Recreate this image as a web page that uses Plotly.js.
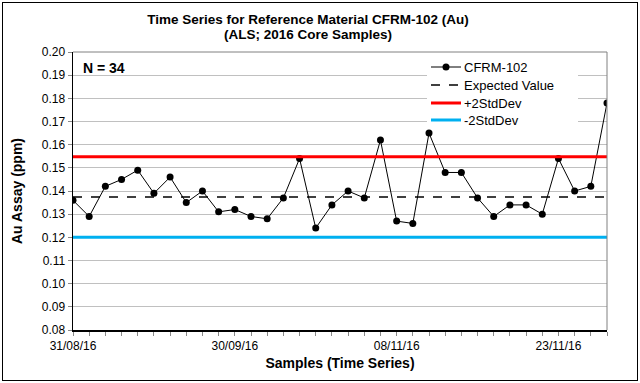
<!DOCTYPE html>
<html>
<head>
<meta charset="utf-8">
<script src="https://cdn.plot.ly/plotly-3.0.1.min.js"></script>
<style>
html,body{margin:0;padding:0;background:#fff;}
#wrap{position:relative;width:640px;height:383px;}
#chart{width:640px;height:383px;}
#frame{position:absolute;left:2px;top:2px;width:634px;height:377px;border:1px solid #000;pointer-events:none;}
</style>
</head>
<body>
<div id="wrap"><div id="chart"></div><div id="frame"></div></div>
<script>
// Sample index (time order) and Au assay values (ppm)
const sampleIndex = [0,1,2,3,4,5,6,7,8,9,10,11,12,13,14,15,16,17,18,19,20,21,22,23,24,25,26,27,28,29,30,31,32,33];
const auAssay = [0.136,0.129,0.142,0.145,0.149,0.139,0.146,0.135,0.140,0.131,
                 0.132,0.129,0.128,0.137,0.154,0.124,0.134,0.140,0.137,0.162,
                 0.127,0.126,0.165,0.148,0.148,0.137,0.129,0.134,0.134,0.130,
                 0.154,0.140,0.142,0.178];
const expectedValue = [0.1374, 0.1374];
const plus2SD = [0.1548, 0.1548];
const minus2SD = [0.1200, 0.1200];
const lineSpan = [0, 33];
const tickPositions = [0, 10, 20, 30];
const tickLabels = ['31/08/16', '30/09/16', '08/11/16', '23/11/16'];
const yTicks = [0.08,0.09,0.10,0.11,0.12,0.13,0.14,0.15,0.16,0.17,0.18,0.19,0.20];
const seriesNames = ['CFRM-102', 'Expected Value', '+2StdDev', '-2StdDev'];

const allTickVals = sampleIndex.slice();
const allTickText = sampleIndex.map(i => {
  const k = tickPositions.indexOf(i);
  return k >= 0 ? tickLabels[k] : '';
});

const FONT = 'Arial, "Liberation Sans", sans-serif';

const styles = [
  {color: '#000', width: 1},
  {color: '#000', width: 1.5, dash: 'dash'},
  {color: '#ff0000', width: 3},
  {color: '#00b0f0', width: 3}
];

const traces = [
  {x: sampleIndex, y: auAssay, name: seriesNames[0], type: 'scatter', mode: 'lines+markers',
   line: styles[0], marker: {color: '#000', size: 7}},
  {x: lineSpan, y: expectedValue, name: seriesNames[1], type: 'scatter', mode: 'lines', line: styles[1]},
  {x: lineSpan, y: plus2SD, name: seriesNames[2], type: 'scatter', mode: 'lines', line: styles[2]},
  {x: lineSpan, y: minus2SD, name: seriesNames[3], type: 'scatter', mode: 'lines', line: styles[3]}
];

// Plot area geometry (px) used to place the hand-built legend and titles
const L = 73, R = 607, T = 52, B = 330;
const px = v => (v - L) / (R - L);
const py = v => (B - v) / (B - T);

const shapes = [
  {type: 'line', xref: 'paper', yref: 'paper', x0: 0, x1: 1, y0: 1, y1: 1, line: {color: '#808080', width: 1}},
  {type: 'line', xref: 'paper', yref: 'paper', x0: 1, x1: 1, y0: 0, y1: 1, line: {color: '#808080', width: 1}},
  {type: 'rect', xref: 'paper', yref: 'paper', layer: 'above', x0: px(427), x1: px(578), y0: py(128), y1: py(57),
   fillcolor: '#fff', line: {width: 0}}
];
const annotations = [
  {text: '<b>(ALS; 2016 Core Samples)</b>', xref: 'paper', yref: 'paper', x: px(308), y: py(35),
   xanchor: 'center', yanchor: 'middle', showarrow: false, font: {size: 13.5, family: FONT}},
  {text: '<b>N = 34</b>', xref: 'paper', yref: 'paper', x: px(81), y: py(68), xanchor: 'left', yanchor: 'middle',
   showarrow: false, font: {size: 14, family: FONT}}
];
const legendY = [67, 85, 103, 120];
seriesNames.forEach((name, i) => {
  shapes.push({type: 'line', xref: 'paper', yref: 'paper', layer: 'above',
    x0: px(431), x1: px(461), y0: py(legendY[i]), y1: py(legendY[i]), line: styles[i]});
  annotations.push({text: name, xref: 'paper', yref: 'paper', x: px(462), y: py(legendY[i]),
    xanchor: 'left', yanchor: 'middle', showarrow: false, font: {size: 13, family: FONT}});
});
shapes.push({type: 'circle', xref: 'paper', yref: 'paper', layer: 'above',
  x0: px(446 - 3.5), x1: px(446 + 3.5), y0: py(67 + 3.5), y1: py(67 - 3.5),
  fillcolor: '#000', line: {width: 0}});

const layout = {
  width: 640, height: 383,
  margin: {l: L, r: 640 - R, t: T, b: 383 - B},
  paper_bgcolor: '#fff', plot_bgcolor: '#fff',
  font: {family: FONT, size: 12, color: '#000'},
  title: {text: '<b>Time Series for Reference Material CFRM-102 (Au)</b>',
          font: {family: FONT, size: 13.5, color: '#000'}, x: 308 / 640, xref: 'container', xanchor: 'center',
          y: 1 - 19 / 383, yref: 'container', yanchor: 'middle'},
  xaxis: {range: [0, 33], tickmode: 'array', tickvals: allTickVals, ticktext: allTickText,
          ticks: 'outside', ticklen: 4, tickcolor: '#888', tickwidth: 1,
          showgrid: false, zeroline: false, showline: true, linecolor: '#000', linewidth: 1.5,
          tickfont: {size: 12, family: FONT}, tickangle: 0,
          title: {text: '<b>Samples (Time Series)</b>', font: {size: 14, family: FONT}, standoff: 6}},
  yaxis: {range: [0.08, 0.20], tickmode: 'array', tickvals: yTicks, tickformat: '.2f',
          ticks: 'outside', ticklen: 4, tickcolor: '#888',
          showgrid: true, gridcolor: '#c0c0c0', gridwidth: 1, zeroline: false,
          showline: true, linecolor: '#000', linewidth: 1.5,
          tickfont: {size: 12, family: FONT},
          title: {text: '<b>Au Assay (ppm)</b>', font: {size: 14, family: FONT}, standoff: 16}},
  showlegend: false,
  shapes: shapes,
  annotations: annotations
};

Plotly.newPlot('chart', traces, layout, {staticPlot: true, displayModeBar: false});
</script>
</body>
</html>
